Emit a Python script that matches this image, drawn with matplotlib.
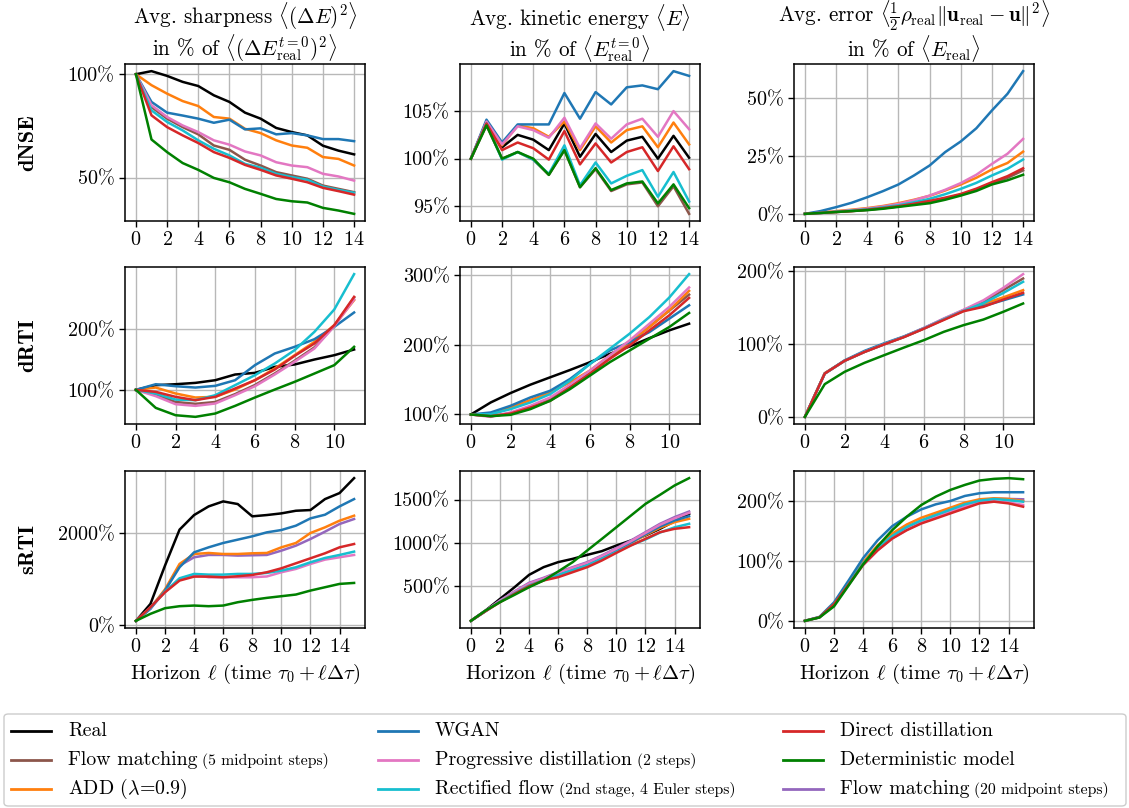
import matplotlib
matplotlib.use("Agg")
import matplotlib.pyplot as plt
from matplotlib.lines import Line2D
from matplotlib.patches import FancyBboxPatch
from matplotlib.ticker import FuncFormatter

plt.rcParams.update({
    "font.family": "serif",
    "font.serif": ["cmr10"],
    "mathtext.fontset": "cm",
    "axes.formatter.use_mathtext": True,
    "axes.unicode_minus": False,
    "font.size": 14,
})

# ---- data (percent values) ----
steps_dnse = list(range(15))
steps_drti = list(range(12))
steps_srti = list(range(16))

dnse_sharp = {
    "real": [100, 101.5, 99.2, 96.3, 94.3, 89.8, 86.6, 81.4, 78.5, 74, 72, 70.4, 65.4, 63, 61.2],
    "fm5": [100, 84.1, 78.5, 74.4, 70.9, 65.5, 63.4, 58.6, 55.8, 52.6, 51, 49.4, 46.1, 44.5, 42.9],
    "add": [100, 94.7, 90.6, 87, 84.6, 79.3, 78.5, 73.6, 71.5, 68, 65.5, 64.4, 59.9, 59, 55.8],
    "wgan": [100, 86.6, 81.4, 80, 78.5, 76.5, 78, 73.3, 73.8, 70.9, 71.5, 70.4, 68.6, 68.6, 67.6],
    "pd": [100, 85, 79.3, 75.2, 72, 68, 65.9, 62.6, 60.7, 57.4, 55.8, 55, 51.8, 50.5, 48.5],
    "rf": [100, 82.5, 76.9, 72.8, 68, 63.9, 60.7, 56.6, 54.7, 51.8, 50.2, 48.9, 45.6, 44, 42.6],
    "dd": [100, 80.1, 74.4, 70.4, 66.7, 62.3, 59.5, 56.1, 53.7, 51, 49.4, 47.7, 45, 43.4, 41.7],
    "det": [100, 68.4, 62.3, 57, 53.7, 49.8, 47.7, 44.5, 42.1, 39.6, 38.5, 37.9, 35.3, 34, 32.4],
}
dnse_energy = {
    "real": [100, 103.9, 101.2, 102.5, 102.0, 100.9, 103.7, 100.2, 102.6, 100.7, 101.9, 102.3, 100, 102.4, 100.1],
    "fm5": [100, 103.5, 100, 100.7, 99.9, 98.3, 100.9, 97.0, 98.9, 96.6, 97.3, 97.5, 95.0, 97.1, 94.2],
    "add": [100, 103.9, 101.4, 103.5, 103.2, 102.3, 103.9, 100.9, 103.4, 101.7, 103.0, 103.4, 101.2, 103.8, 101.5],
    "wgan": [100, 104.1, 101.7, 103.6, 103.6, 103.6, 106.9, 104.2, 107, 105.7, 107.5, 107.7, 107.3, 109.2, 108.7],
    "pd": [100, 103.9, 101.5, 103.4, 103.0, 102.2, 104.3, 101.1, 103.7, 102.1, 103.6, 104.2, 102.3, 105.0, 103.1],
    "rf": [100, 103.7, 99.9, 100.7, 99.9, 98.4, 101.4, 97.2, 99.6, 97.4, 98.2, 98.8, 96.0, 98.6, 95.5],
    "dd": [100, 103.7, 100.9, 101.7, 101.1, 99.9, 102.9, 99.4, 101.6, 99.6, 100.7, 101.2, 98.7, 101.3, 98.9],
    "det": [100, 103.5, 100, 100.7, 100, 98.3, 100.9, 97.0, 99.0, 96.7, 97.4, 97.6, 95.3, 97.3, 94.8],
}
dnse_error = {
    "fm5": [0, 0.4, 0.8, 1.2, 1.7, 2.4, 3.2, 4.2, 5.3, 6.7, 8.3, 10.4, 13.1, 15.6, 18.8],
    "add": [0, 0.6, 1.2, 1.8, 2.5, 3.4, 4.6, 6.1, 7.8, 10.1, 12.7, 15.6, 19.2, 22, 26.9],
    "wgan": [0, 1.2, 2.9, 4.8, 7.2, 9.8, 12.7, 16.6, 20.9, 26.7, 31.3, 37, 44.7, 51.9, 61.7],
    "pd": [0, 0.5, 1.0, 1.6, 2.3, 3.2, 4.3, 5.9, 7.9, 10.4, 13.3, 16.9, 21.6, 26, 32.4],
    "rf": [0, 0.4, 0.9, 1.4, 2.0, 2.8, 3.7, 5.0, 6.5, 8.5, 10.8, 13.4, 16.6, 19.5, 23.5],
    "dd": [0, 0.4, 0.8, 1.2, 1.8, 2.5, 3.3, 4.4, 5.6, 7.0, 8.6, 10.9, 13.7, 16.3, 19.7],
    "det": [0, 0.4, 0.8, 1.2, 1.6, 2.2, 3.0, 3.8, 4.6, 6.1, 7.9, 9.9, 12.7, 14.5, 16.9],
}

drti_sharp = {
    "real": [100, 107.7, 109.3, 111.5, 115.9, 125.3, 128, 137.9, 141.8, 150, 157.1, 166.5],
    "fm5": [100, 92, 80, 77, 80, 93, 108, 127, 148, 170, 205, 252],
    "add": [100, 103.8, 94, 87.4, 88.5, 100.5, 115.9, 135.2, 157.1, 179.1, 206.6, 247.8],
    "wgan": [100, 109.3, 106, 103.8, 106.6, 115.9, 140.7, 159.9, 170.9, 183.5, 203.8, 227.5],
    "pd": [100, 89.6, 76.4, 73.6, 77.5, 91.2, 106, 125.3, 146.2, 168.1, 205, 248.9],
    "rf": [100, 94, 84, 83, 91.2, 107.7, 124.2, 143.4, 165.4, 195.6, 232.4, 290.7],
    "dd": [100, 96.7, 88.5, 83, 88.5, 102.2, 115.9, 133.5, 156, 176.4, 206.6, 253.3],
    "det": [100, 70.3, 58.2, 55.5, 61, 73.6, 87.4, 100.5, 113.2, 126.9, 140.7, 170.9],
}
drti_energy = {
    "real": [100, 117.3, 130.8, 142.8, 153.4, 163.9, 175, 187, 197.6, 209.6, 220.7, 230.3],
    "fm5": [100, 97.5, 102, 111, 122, 141, 161, 182, 203, 226, 249, 272],
    "add": [100, 99.5, 110, 120.7, 131.7, 146.2, 163, 184.6, 203.8, 225.5, 249.5, 277.4],
    "wgan": [100, 102.9, 112.5, 124.5, 134.1, 151, 172.6, 191.8, 203.8, 218.3, 237.5, 256.7],
    "pd": [100, 96.6, 102.9, 112.5, 124.5, 142.8, 163, 184.6, 206.3, 230.3, 254.3, 282.2],
    "rf": [100, 100.5, 107.7, 117.3, 129.3, 148.6, 172.6, 194.2, 215.9, 239.9, 267.8, 301.4],
    "dd": [100, 97.6, 101.4, 110, 119.7, 138.9, 158.2, 179.8, 199, 220.7, 242.3, 267.3],
    "det": [100, 97.6, 99.5, 107.7, 119.7, 136.5, 155.8, 175, 191.8, 208.7, 225.5, 245.7],
}
drti_error = {
    "fm5": [0, 59.5, 76.9, 89.2, 99.8, 110, 121.5, 134.5, 146.5, 158, 174, 189.9],
    "add": [0, 60, 77, 89.2, 99.8, 109.8, 121.3, 133.6, 145.5, 155, 164, 173.9],
    "wgan": [0, 59.5, 77.5, 90.5, 101, 110.5, 122, 134, 146, 152, 160, 168],
    "pd": [0, 59.5, 76.9, 89.2, 99.8, 110, 122, 135, 147, 160, 177, 195.9],
    "rf": [0, 59.5, 76.9, 89.2, 99.8, 109.8, 121.3, 134, 145.5, 156, 170, 185.4],
    "dd": [0, 59.5, 76.9, 89, 99.5, 109.5, 121, 133, 145, 151, 161, 170.3],
    "det": [0, 44.9, 61.8, 74.1, 84.7, 95.2, 105.3, 116.7, 125.9, 133.6, 144.2, 155.6],
}

srti_sharp = {
    "real": [100, 467, 1295, 2072, 2388, 2575, 2683, 2626, 2360, 2388, 2424, 2481, 2496, 2733, 2863, 3186],
    "fm20": [100, 370, 760, 1295, 1475, 1525, 1525, 1511, 1518, 1525, 1618, 1726, 1870, 2029, 2194, 2302],
    "add": [100, 380, 780, 1331, 1546, 1568, 1546, 1546, 1561, 1568, 1690, 1784, 2000, 2122, 2266, 2374],
    "wgan": [100, 360, 755, 1259, 1582, 1690, 1784, 1856, 1928, 2014, 2064, 2158, 2316, 2395, 2575, 2733],
    "pd": [100, 385, 720, 1000, 1100, 1043, 1043, 1043, 1043, 1060, 1151, 1223, 1331, 1424, 1475, 1525],
    "rf": [100, 390, 730, 1021, 1115, 1100, 1100, 1115, 1115, 1136, 1187, 1259, 1367, 1460, 1525, 1597],
    "dd": [100, 396, 719, 971, 1057, 1057, 1043, 1065, 1093, 1151, 1237, 1345, 1453, 1561, 1690, 1762],
    "det": [100, 252, 374, 417, 431, 417, 431, 503, 554, 597, 633, 669, 755, 827, 899, 920],
}
srti_energy = {
    "real": [100, 218, 353, 488, 631, 720, 778, 816, 862, 905, 970, 1028, 1086, 1163, 1251, 1336],
    "fm20": [100, 215, 335, 440, 539, 597, 662, 720, 778, 855, 940, 1028, 1124, 1221, 1298, 1363],
    "add": [100, 212, 325, 425, 515, 580, 640, 700, 755, 830, 915, 1000, 1090, 1175, 1240, 1279],
    "wgan": [100, 212, 325, 425, 515, 580, 640, 700, 755, 830, 915, 1005, 1100, 1190, 1260, 1309],
    "pd": [100, 215, 330, 435, 530, 590, 655, 712, 770, 848, 932, 1020, 1115, 1210, 1285, 1348],
    "rf": [100, 210, 320, 418, 508, 570, 628, 685, 740, 815, 895, 975, 1040, 1120, 1180, 1221],
    "dd": [100, 210, 315, 411, 500, 566, 604, 662, 720, 797, 885, 970, 1047, 1124, 1163, 1182],
    "det": [99, 218, 315, 400, 488, 566, 670, 778, 913, 1046, 1181, 1316, 1451, 1556, 1664, 1749],
}
srti_error = {
    "fm20": [0, 6, 28, 62, 96, 122, 142, 157, 168, 177, 186, 195, 201, 204.5, 204, 203.4],
    "add": [0, 6, 28, 62, 98.3, 126.4, 146, 161.2, 172.5, 180.9, 189.3, 197.8, 203.4, 205.1, 204, 200.6],
    "wgan": [0, 6.7, 30.9, 67.4, 105, 134.8, 158.4, 174.2, 186.5, 195, 200.6, 209, 213.5, 215.2, 215.2, 215.2],
    "pd": [0, 6, 27, 60, 93, 118, 138, 152, 164, 173, 182, 191, 198, 200, 198, 194],
    "rf": [0, 6, 28, 62, 96, 122, 142, 157, 168, 177, 186, 195, 201, 203.9, 202, 199.4],
    "dd": [0, 6, 28, 61, 93.8, 118, 137.6, 151.7, 162.9, 171.3, 179.8, 188.2, 196.6, 199.4, 196.6, 191],
    "det": [0, 5.6, 24.2, 59, 94.4, 124.7, 151.7, 174.2, 193.8, 207.9, 219.1, 227.5, 234.8, 237.6, 238.8, 237],
}

colors = {"real": "black", "fm5": "tab:brown", "add": "tab:orange", "wgan": "tab:blue",
          "pd": "tab:pink", "rf": "tab:cyan", "dd": "tab:red", "det": "green",
          "fm20": "tab:purple"}
plot_order = ["real", "fm5", "fm20", "add", "wgan", "pd", "rf", "dd", "det"]

row_names = ["dNSE", "dRTI", "sRTI"]
titles = [
    "Avg. sharpness $\\langle(\\Delta E)^2\\rangle$\nin % of $\\langle(\\Delta E_{\\mathrm{real}}^{t=0})^2\\rangle$",
    "Avg. kinetic energy $\\langle E\\rangle$\nin % of $\\langle E_{\\mathrm{real}}^{t=0}\\rangle$",
    "Avg. error $\\langle\\frac{1}{2}\\rho_{\\mathrm{real}}\\Vert\\mathbf{u}_{\\mathrm{real}}-\\mathbf{u}\\Vert^2\\rangle$\nin % of $\\langle E_{\\mathrm{real}}\\rangle$",
]
panels = [
    [(steps_dnse, dnse_sharp, [50, 100]), (steps_dnse, dnse_energy, [95, 100, 105]),
     (steps_dnse, dnse_error, [0, 25, 50])],
    [(steps_drti, drti_sharp, [100, 200]), (steps_drti, drti_energy, [100, 200, 300]),
     (steps_drti, drti_error, [0, 100, 200])],
    [(steps_srti, srti_sharp, [0, 2000]), (steps_srti, srti_energy, [500, 1000, 1500]),
     (steps_srti, srti_error, [0, 100, 200])],
]

W, H = 1129, 808
fig = plt.figure(figsize=(W / 100, H / 100), dpi=100)

col_left = [125, 460, 794]
row_top = [64, 267, 471]
ax_w, ax_h = 240, 157
pct = FuncFormatter(lambda v, p: "{:.0f}%".format(v))

for r in range(3):
    for c in range(3):
        x, series, yt = panels[r][c]
        ax = fig.add_axes([col_left[c] / W, 1 - (row_top[r] + ax_h) / H, ax_w / W, ax_h / H])
        for key in plot_order:
            if key in series:
                ax.plot(x, series[key], color=colors[key], lw=1.8)
        ax.set_xticks(range(0, len(x), 2))
        ax.set_yticks(yt)
        ax.yaxis.set_major_formatter(pct)
        ax.grid(True, color="0.72", lw=1.0)
        ax.set_axisbelow(True)
        for s in ax.spines.values():
            s.set_linewidth(1.1)
        ax.tick_params(labelsize=14.5, width=1.0, length=4)
        if r == 0:
            ax.set_title(titles[c], fontsize=15.2, linespacing=1.0, pad=3)
        if c == 0:
            ax.set_ylabel(row_names[r], fontfamily="cmb10", fontsize=16)
            ax.yaxis.set_label_coords(-0.367, 0.5)
        if r == 2:
            ax.set_xlabel("Horizon $\\ell$ (time $\\tau_0 + \\ell\\Delta\\tau$)", fontsize=14.8)

# ---- legend, laid out by hand so the small annotations fit ----
legend_cols = [
    [("real", "Real", ""), ("fm5", "Flow matching", "(5 midpoint steps)"), ("add", "ADD ($\\lambda$=0.9)", "")],
    [("wgan", "WGAN", ""), ("pd", "Progressive distillation", "(2 steps)"),
     ("rf", "Rectified flow", "(2nd stage, 4 Euler steps)")],
    [("dd", "Direct distillation", ""), ("det", "Deterministic model", ""),
     ("fm20", "Flow matching", "(20 midpoint steps)")],
]
fig.add_artist(FancyBboxPatch((4 / W, 1 - 806 / H), 1122 / W, 92 / H,
                              boxstyle="round,pad=0,rounding_size=0.004",
                              transform=fig.transFigure, facecolor="white",
                              edgecolor="0.8", lw=1.0))
handle_x = [11, 378, 783]
row_y = [731, 760, 789]
pending = []
for ci, col in enumerate(legend_cols):
    for ri, (key, main, small) in enumerate(col):
        yc = 1 - row_y[ri] / H
        fig.add_artist(Line2D([handle_x[ci] / W, (handle_x[ci] + 40) / W], [yc, yc],
                              color=colors[key], lw=2.0, transform=fig.transFigure))
        yb = 1 - (row_y[ri] + 5) / H
        t = fig.text((handle_x[ci] + 57) / W, yb, main, fontsize=14.3, va="baseline")
        if small:
            pending.append((t, yb, small))

fig.canvas.draw()
renderer = fig.canvas.get_renderer()
for t, yb, small in pending:
    bb = t.get_window_extent(renderer)
    fig.text((bb.x1 + 5) / fig.bbox.width, yb, small, fontsize=11.3, va="baseline")

fig.savefig("out.png", dpi=100)
